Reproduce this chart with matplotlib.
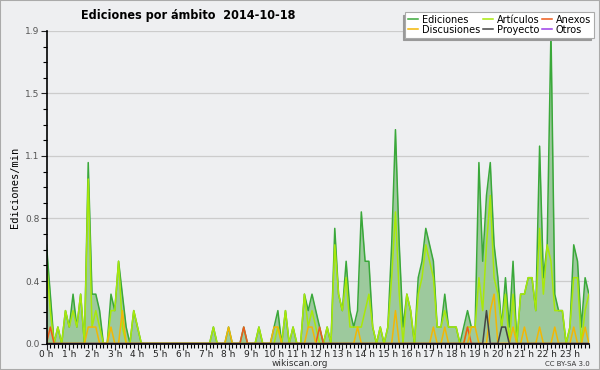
import numpy as np
import matplotlib
matplotlib.use('Agg')
import matplotlib.pyplot as plt
from matplotlib.patches import Rectangle

# 10-minute slots, edits per minute
ediciones = [0.6, 0.3, 0, 0.1, 0, 0.2, 0.1, 0.3, 0.1, 0.3, 0, 1.1,
             0.3, 0.3, 0.2, 0, 0, 0.3, 0.2, 0.5, 0.3, 0.1, 0, 0.2,
             0.1, 0, 0, 0, 0, 0, 0, 0, 0, 0, 0, 0,
             0, 0, 0, 0, 0, 0, 0, 0, 0.1, 0, 0, 0,
             0.1, 0, 0, 0, 0.1, 0, 0, 0, 0.1, 0, 0, 0,
             0.1, 0.2, 0, 0.2, 0, 0.1, 0, 0, 0.3, 0.2, 0.3, 0.2,
             0.1, 0, 0.1, 0, 0.7, 0.3, 0.2, 0.5, 0.2, 0.1, 0.2, 0.8,
             0.5, 0.5, 0.1, 0, 0.1, 0, 0.1, 0.6, 1.3, 0.6, 0.1, 0.3,
             0.2, 0, 0.4, 0.5, 0.7, 0.6, 0.5, 0.1, 0.1, 0.3, 0.1, 0.1,
             0.1, 0, 0.1, 0.2, 0.1, 0.1, 1.1, 0.5, 0.9, 1.1, 0.6, 0.4,
             0.1, 0.4, 0.1, 0.5, 0, 0.3, 0.3, 0.4, 0.4, 0.2, 1.2, 0.4,
             0.6, 1.9, 0.3, 0.2, 0.2, 0, 0.1, 0.6, 0.5, 0.1, 0.4, 0.3]

articulos = [0.5, 0.2, 0, 0.1, 0, 0.2, 0.1, 0.2, 0.1, 0.3, 0, 1.0,
             0.1, 0.2, 0.1, 0, 0, 0.2, 0.2, 0.5, 0.1, 0, 0, 0.2,
             0.1, 0, 0, 0, 0, 0, 0, 0, 0, 0, 0, 0,
             0, 0, 0, 0, 0, 0, 0, 0, 0.1, 0, 0, 0,
             0, 0, 0, 0, 0, 0, 0, 0, 0.1, 0, 0, 0,
             0, 0.1, 0, 0.2, 0, 0.1, 0, 0, 0.3, 0.1, 0.2, 0.1,
             0, 0, 0.1, 0, 0.6, 0.3, 0.2, 0.4, 0.1, 0.1, 0.1, 0.1,
             0.2, 0.3, 0.1, 0, 0.1, 0, 0.1, 0.4, 0.8, 0.3, 0, 0.3,
             0.2, 0, 0.3, 0.4, 0.6, 0.5, 0.4, 0.1, 0.1, 0.2, 0.1, 0.1,
             0.1, 0, 0, 0.1, 0.1, 0.1, 0.4, 0.2, 0.6, 0.9, 0.4, 0.3,
             0.1, 0.3, 0, 0.3, 0, 0.3, 0.3, 0.4, 0.4, 0.2, 0.7, 0.3,
             0.6, 0.5, 0.2, 0.2, 0.2, 0, 0.1, 0.4, 0.4, 0, 0.2, 0.3]

# sparse series: {slot: value}
discusiones_pts = {11: 0.1, 12: 0.1, 13: 0.1, 17: 0.1, 20: 0.2, 48: 0.1,
                   60: 0.1, 61: 0.1, 69: 0.1, 70: 0.1, 82: 0.1, 92: 0.2,
                   102: 0.1, 105: 0.1, 112: 0.1, 113: 0.1, 117: 0.2, 118: 0.3,
                   123: 0.1, 126: 0.1, 130: 0.1, 134: 0.1, 139: 0.1, 142: 0.1}
anexos_pts = {1: 0.1, 52: 0.1, 72: 0.1, 111: 0.1}
proyecto_pts = {116: 0.2, 120: 0.1, 121: 0.1}
otros_pts = {}

hour_labels = ['%d h' % h for h in range(24)]
title = 'Ediciones por ámbito  2014-10-18'

n = len(ediciones)
x = np.arange(n)
def dense(pts):
    v = np.zeros(n)
    for k, val in pts.items():
        v[k] = val
    return v

discusiones = dense(discusiones_pts)
anexos = dense(anexos_pts)
proyecto = dense(proyecto_pts)
otros = dense(otros_pts)

bg = '#eeeff1'
fig = plt.figure(figsize=(6, 3.7), dpi=100, facecolor=bg)
fig.patches.append(Rectangle((0, 0), 1, 1, transform=fig.transFigure,
                             fill=False, edgecolor='#aaaaaa', linewidth=1.5))

ax = fig.add_axes([0.0775, 0.0716, 0.904, 0.8447])
ax.set_facecolor(bg)

ax.fill_between(x, ediciones, color='#9dc99d', linewidth=0)
ax.plot(x, ediciones, color='#3aa83a', lw=1.1, label='Ediciones')
ax.plot(x, articulos, color='#a8e80a', lw=1.1, label='Artículos')
ax.plot(x, anexos, color='#ee5a1a', lw=1.1, label='Anexos')
ax.plot(x, discusiones, color='#f2b705', lw=1.1, label='Discusiones')
ax.plot(x, proyecto, color='#444444', lw=1.1, label='Proyecto')
ax.plot(x, otros, color='#9b3ee8', lw=1.1, label='Otros')

ymax = max(ediciones)
ax.set_xlim(0, n - 1)
ax.set_ylim(0, ymax)
yt = np.linspace(0, ymax, 6)
ax.set_yticks(yt)
ax.set_yticklabels(['%.1f' % v for v in yt])
ax.set_yticks(np.linspace(0, ymax, 21), minor=True)
ax.set_xticks(x[::6])
ax.set_xticklabels(hour_labels)
ax.set_xticks(x, minor=True)
ax.tick_params(axis='both', labelsize=6.5, colors='#222222', length=4, width=0.8, pad=1)
ax.tick_params(axis='y', labelcolor='#555555')
ax.tick_params(which='minor', length=3, width=0.8)
ax.grid(axis='y', color='#cccccc', lw=0.9)
ax.set_axisbelow(True)
for s in ['top', 'right']:
    ax.spines[s].set_visible(False)
ax.spines['left'].set_linewidth(1.2)
ax.spines['bottom'].set_linewidth(1.2)
ax.spines['bottom'].set_zorder(5)

ax.set_ylabel('Ediciones/min', family='DejaVu Sans Mono', fontsize=7.5, labelpad=4)

fig.text(0.313, 0.958, title, fontsize=9, fontweight='bold', fontstretch='condensed',
         ha='center', va='center')
fig.text(0.5, 0.017, 'wikiscan.org', fontsize=6.5, color='#333333', ha='center', va='center')
fig.text(0.983, 0.017, 'CC BY-SA 3.0', fontsize=5, color='#333333', ha='right', va='center')

h, l = ax.get_legend_handles_labels()
order = [0, 3, 1, 4, 2, 5]
leg = fig.legend([h[i] for i in order], [l[i] for i in order], ncol=3,
                 loc='upper right', bbox_to_anchor=(0.99, 0.968), fontsize=7,
                 frameon=True, fancybox=False,
                 shadow={'ox': -2, 'oy': -2, 'color': '#999999', 'alpha': 1},
                 handlelength=1.0, handletextpad=0.4, columnspacing=0.3,
                 labelspacing=0.0, borderpad=0.3, borderaxespad=0)
leg.get_frame().set_edgecolor('#aaaaaa')
leg.get_frame().set_linewidth(0.8)

fig.savefig('out.png', dpi=100, facecolor=bg)
